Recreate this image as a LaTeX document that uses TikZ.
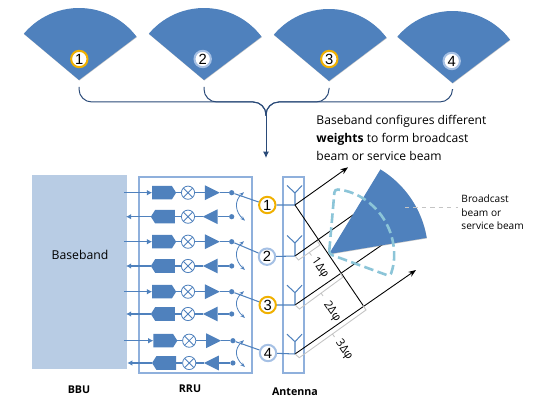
\documentclass[tikz,border=0pt]{standalone}
\usepackage{xcolor}
\usepackage{amsmath}
\usepackage{fontspec}
\setmainfont{Open Sans}
\newfontfamily\digitfont{Liberation Sans}
\usepackage{tikz}
\usetikzlibrary{shapes,shapes.geometric,shapes.symbols,arrows.meta,positioning,calc,shadows}
\definecolor{SectorBlue}{HTML}{4F81BD}
\definecolor{FrameBlue}{HTML}{8FB0DC}
\definecolor{BasebandBlue}{HTML}{B8CCE4}
\definecolor{BusNavy}{HTML}{2A4A78}
\definecolor{PortYellow}{HTML}{F0B000}
\definecolor{PortBlue}{HTML}{A5C0E4}
\definecolor{BeamCyan}{HTML}{8CC5D8}
\definecolor{BracketGray}{HTML}{C4C4C4}
\tikzset{
    sector/.style={fill=SectorBlue,drop shadow={shadow xshift=0.2pt,shadow yshift=-0.4pt,fill=black!45,opacity=0.5}},
    portnode/.style={circle,fill=white,draw=#1,line width=0.5mm,minimum size=4.1mm,inner sep=0pt,font=\digitfont\fontsize{10.5}{12}\selectfont},
    frame/.style={draw=FrameBlue,line width=0.5mm},
    busline/.style={draw=BusNavy,line width=0.25mm,rounded corners=3.2mm},
    rfline/.style={draw=SectorBlue,line width=0.26mm},
    rfblock/.style={signal,signal pointer angle=115,fill=SectorBlue,minimum width=6mm,minimum height=3.4mm,inner sep=0pt,outer sep=0pt},
    rfamp/.style={isosceles triangle,isosceles triangle stretches,fill=SectorBlue,minimum width=3.7mm,minimum height=3.7mm,inner sep=0pt,outer sep=0pt},
    mixer/.style={circle,draw=SectorBlue,fill=white,line width=0.2mm,minimum size=3.3mm,inner sep=0pt,
        path picture={\draw[SectorBlue,line width=0.2mm] (path picture bounding box.north west) -- (path picture bounding box.south east)
            (path picture bounding box.north east) -- (path picture bounding box.south west);}},
    rfdot/.style={circle,fill=SectorBlue,minimum size=1.3mm,inner sep=0pt},
    swarrow/.style={draw=SectorBlue,line width=0.2mm,{Stealth[length=1.2mm]}-{Stealth[length=1.2mm]}},
    beamline/.style={draw=black,line width=0.22mm},
    bracket/.style={draw=BracketGray,line width=0.22mm},
    dimlabel/.style={rotate=-55,inner sep=0pt,font=\fontsize{8.2}{10}\selectfont},
    unitlabel/.style={font=\bfseries\fontsize{7.6}{10}\selectfont}
}
\begin{document}
\begin{tikzpicture}[x=0.25mm,y=-0.25mm]
    \useasboundingbox (0,0) rectangle (534,412);

    \foreach \n/\x/\y in {1/79/80,2/204/80,3/329/81,4/452.5/83}{
        \fill[sector] (\x,\y) -- ++(140:18mm) arc[start angle=140,end angle=37,radius=18mm] -- cycle;
        \coordinate (bus\n) at (\x,\y+7);
    }
    \node[portnode=PortYellow] (top1) at (79.3,59) {1};
    \node[portnode=PortBlue] (top2) at (202.7,59) {2};
    \node[portnode=PortYellow] (top3) at (329.3,59) {3};
    \node[portnode=PortBlue] (top4) at (451.7,61) {4};

    \coordinate (busjoin) at (266,102);
    \coordinate (busdown) at (266,116);
    \coordinate (bustip) at (266,158);
    \foreach \n in {1,2,3,4}{
        \draw[busline] (bus\n) |- (busjoin) -- (busdown);
    }
    \draw[busline,-{Latex[length=1.6mm,width=1.5mm]}] (busdown) -- (bustip);
    \node[anchor=west,align=left,font=\fontsize{8.6}{12.7}\selectfont] (weighttext) at (311.5,138)
      {Baseband configures different\\\textbf{weights} to form broadcast\\beam or service beam};

    \fill[BasebandBlue] (32,175) rectangle (127,369);
    \node[font=\fontsize{8.7}{11}\selectfont] (bbtext) at (80,255) {Baseband};
    \draw[frame] (139,177) rectangle (252,372.7);
    \draw[frame] (283.3,177.3) rectangle (304,372.7);

    \foreach \n/\ya/\yb/\xs in {1/192.7/216.7/0,2/241.7/266/0,3/291.7/314/0,4/340.7/363/1.2}{
        \coordinate (txin\n) at (124,\ya);
        \coordinate (rxout\n) at (126+\xs,\yb);
        \node[rfblock,signal to=east] (txb\n) at (162+\xs,\ya) {};
        \node[mixer] (txm\n) at (188+\xs,\ya) {};
        \node[rfamp] (txa\n) at (209.5+\xs,\ya) {};
        \node[rfdot] (txd\n) at (231.7+\xs,\ya) {};
        \node[rfblock,signal to=west] (rxb\n) at (165+\xs,\yb) {};
        \node[mixer] (rxm\n) at (188+\xs,\yb) {};
        \node[rfamp,shape border rotate=180] (rxa\n) at (213+\xs,\yb) {};
        \node[rfdot] (rxd\n) at (231.7+\xs,\yb) {};
        \draw[rfline,-{Latex[length=1.3mm,width=1.4mm]}] (txin\n) -- (txb\n.west);
        \draw[rfline] (txb\n) -- (txm\n) -- (txa\n) -- (txd\n);
        \draw[rfline] (rxd\n) -- (rxa\n) -- (rxm\n) -- (rxb\n);
        \draw[rfline,-{Latex[length=1.3mm,width=1.4mm]}] (rxb\n.west) -- (rxout\n);
        \coordinate (swa\n) at (244,\ya-0.5);
        \coordinate (swb\n) at (245,\yb+4);
        \draw[swarrow] (swa\n) .. controls (234,\ya+8) and (235,\yb-5) .. (swb\n);
    }

    \node[portnode=PortYellow] (port1) at (267.3,205) {1};
    \node[portnode=PortBlue] (port2) at (267,256.7) {2};
    \node[portnode=PortYellow] (port3) at (267.7,305) {3};
    \node[portnode=PortBlue] (port4) at (268,353) {4};
    \foreach \n/\yf/\yj in {1/205/193,2/256/243,3/305/292.7,4/354/341.7}{
        \coordinate (feed\n) at (295,\yf);
        \coordinate (ant\n) at (295,\yj);
        \coordinate (antl\n) at (287,\yj-7.5);
        \coordinate (antr\n) at (302,\yj-7.5);
        \draw[rfline] (txd\n) -- (port\n);
        \draw[rfline] (port\n) -- (feed\n) -- (ant\n) -- (antl\n) (ant\n) -- (antr\n);
    }

    \coordinate (beam1) at (348,167.3);
    \coordinate (beam2) at (360,210);
    \coordinate (beam3) at (400,232.5);
    \coordinate (beam4) at (416,270);
    \coordinate (wave4) at (363.3,305.7);
    \draw[beamline,-{Stealth[length=1.9mm]}] (feed1) -- (beam1);
    \draw[beamline] (feed2) -- (beam2);
    \draw[beamline] (feed3) -- (beam3);
    \draw[beamline,-{Stealth[length=1.9mm]}] (feed4) -- (beam4);
    \draw[beamline] (feed1) -- (wave4);

    \draw[bracket] (feed2) -- (298.5,260) -- (320,245) -- (317.5,241.5) (309.2,252.5) -- (311.5,255.5);
    \draw[bracket] (feed3) -- (299.5,309) -- (342.7,277.3) -- (340.5,273) (321,293) -- (323,296);
    \draw[bracket] (feed4) -- (299.3,357.7) -- (366,310) -- (363.3,305.7) (332.5,334) -- (334.5,337);
    \node[dimlabel] (dim1) at (320,268) {1Δφ};
    \node[dimlabel] (dim2) at (332,311.7) {2Δφ};
    \node[dimlabel] (dim3) at (344,350) {3Δφ};

    \fill[sector] (329,254) -- ++(58.7:24.75mm) arc[start angle=58.7,end angle=9.4,radius=24.75mm] -- cycle;
    \draw[BeamCyan,line width=0.65mm,dash pattern=on 2.4mm off 1.1mm,rounded corners=0.8mm]
        (329,254) -- ++(85:16.25mm) arc[start angle=85,end angle=-20,radius=16.25mm] -- cycle;

    \coordinate (calloutstart) at (405,207);
    \node[anchor=west,align=left,font=\fontsize{7.2}{9.6}\selectfont] (beamtext) at (456.5,212.5)
      {Broadcast\\beam or\\service beam};
    \draw[BracketGray,line width=0.15mm,dashed] (calloutstart) -- (458,207);

    \node[unitlabel] (bbu) at (79,390) {BBU};
    \node[unitlabel] (rru) at (190,389) {RRU};
    \node[unitlabel] (antenna) at (295,392) {Antenna};
\end{tikzpicture}
\end{document}
